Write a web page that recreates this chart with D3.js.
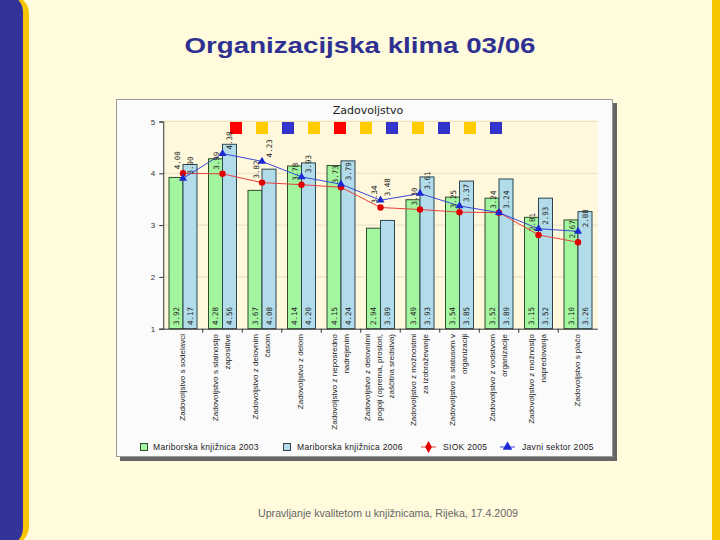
<!DOCTYPE html>
<html><head><meta charset="utf-8">
<script src="https://cdn.jsdelivr.net/npm/d3@7"></script>
<style>
html,body{margin:0;padding:0;background:#fffbdc;}
svg{display:block;}
</style></head>
<body>
<svg id="c" width="720" height="540"></svg>
<script>
const categories = [
  ["Zadovoljstvo s sodelavci"],
  ["Zadovoljstvo s stalnostjo", "zaposlitve"],
  ["Zadovoljstvo z delovnim", "časom"],
  ["Zadovoljstvo z delom"],
  ["Zadovoljstvo z neposredno", "nadrejenim"],
  ["Zadovoljstvo z delovnimi", "pogoji (oprema, prostori,", "zaščitna sredstva)"],
  ["Zadovoljstvo z možnostmi", "za izobraževanje"],
  ["Zadovoljstvo s statusom v", "organizaciji"],
  ["Zadovoljstvo z vodstvom", "organizacije"],
  ["Zadovoljstvo z možnostjo", "napredovanja"],
  ["Zadovoljstvo s plačo"]
];
const maribor2003 = [3.92, 4.28, 3.67, 4.14, 4.15, 2.94, 3.49, 3.54, 3.52, 3.15, 3.10];
const maribor2006 = [4.17, 4.56, 4.08, 4.20, 4.24, 3.09, 3.93, 3.85, 3.89, 3.52, 3.26];
const siok2005   = [4.00, 3.99, 3.82, 3.78, 3.73, 3.34, 3.30, 3.25, 3.24, 2.81, 2.67];
const javni2005  = [3.90, 4.38, 4.23, 3.93, 3.79, 3.48, 3.61, 3.37, 3.24, 2.93, 2.88];
const yTicks = [1, 2, 3, 4, 5];
const markerColors = ["#ff0000","#ffcc00","#3333cc","#ffcc00","#ff0000","#ffcc00","#3333cc","#ffcc00","#3333cc","#ffcc00","#3333cc"];
const legendItems = ["Mariborska knjižnica 2003", "Mariborska knjižnica 2006", "SIOK 2005", "Javni sektor 2005"];
const slideTitle = "Organizacijska klima 03/06";
const chartTitle = "Zadovoljstvo";
const footer = "Upravljanje kvalitetom u knjižnicama, Rijeka, 17.4.2009";

const svg = d3.select("#c");
const F = "Liberation Sans, Arial, sans-serif";

// slide decoration
svg.append("rect").attr("x",0).attr("y",0).attr("width",720).attr("height",540).attr("fill","#fffbdc");
svg.append("rect").attr("x",-30).attr("y",-6).attr("width",59).attr("height",552).attr("rx",20).attr("fill","#f7c600");
svg.append("rect").attr("x",-30).attr("y",-6).attr("width",53).attr("height",552).attr("rx",18).attr("fill","#333399");
svg.append("rect").attr("x",712).attr("y",0).attr("width",8).attr("height",540).attr("fill","#f7c600");

svg.append("text").attr("x",360).attr("y",53).attr("text-anchor","middle")
  .attr("font-family",F).attr("font-weight","bold").attr("font-size",22)
  .attr("textLength",351).attr("lengthAdjust","spacingAndGlyphs")
  .attr("fill","#2e3192").text(slideTitle);
svg.append("text").attr("x",388).attr("y",517).attr("text-anchor","middle")
  .attr("font-family",F).attr("font-size",10.5)
  .attr("textLength",260).attr("lengthAdjust","spacingAndGlyphs")
  .attr("fill","#666").text(footer);

// chart panel
svg.append("rect").attr("x",120).attr("y",103).attr("width",497).attr("height",358).attr("fill","#666");
svg.append("rect").attr("x",116.5).attr("y",99.5).attr("width",496).attr("height",357)
  .attr("fill","#fbfbfb").attr("stroke","#999");

const x0 = 163.25, x1 = 597.75;
const x = d3.scaleBand().domain(d3.range(categories.length)).range([x0, x1]);
const y = d3.scaleLinear().domain([1, 5]).range([328.7, 121.5]);
const bw = 14;
const cx = i => x(i) + x.bandwidth()/2;

svg.append("rect").attr("x",x0).attr("y",y(5.03)).attr("width",x1-x0).attr("height",y(1)-y(5.03)).attr("fill","#fff8dc");

// grid
svg.append("g").selectAll("line").data(yTicks.slice(1)).join("line")
  .attr("x1",x0).attr("x2",x1).attr("y1",d=>y(d)).attr("y2",d=>y(d))
  .attr("stroke","#e6dfc4").attr("stroke-width",1);

svg.append("text").attr("x",368).attr("y",114).attr("text-anchor","middle")
  .attr("font-family","DejaVu Sans, Verdana, sans-serif").attr("font-size",11).attr("fill","#222").text(chartTitle);

// marker squares
const mx = d3.scaleBand().domain(d3.range(markerColors.length)).range([230, 230+26*markerColors.length]);
svg.append("g").selectAll("rect").data(markerColors).join("rect")
  .attr("x",(d,i)=>mx(i)).attr("y",122).attr("width",12).attr("height",12).attr("fill",d=>d);

// bars
const g = svg.append("g");
g.selectAll(".b1").data(maribor2003).join("rect")
  .attr("x",(d,i)=>cx(i)-bw).attr("y",d=>y(d)).attr("width",bw).attr("height",d=>y(1)-y(d))
  .attr("fill","#a4f5a0").attr("stroke","#2d4d2d").attr("stroke-width",1);
g.selectAll(".b2").data(maribor2006).join("rect")
  .attr("x",(d,i)=>cx(i)).attr("y",d=>y(d)).attr("width",bw).attr("height",d=>y(1)-y(d))
  .attr("fill","#b2dcea").attr("stroke","#2d4550").attr("stroke-width",1);

const fmt = d3.format(".2f");
function vlabel(data, dx, yfn, anchor){
  svg.append("g").selectAll("text").data(data).join("text")
    .attr("transform",(d,i)=>`translate(${cx(i)+dx},${yfn(d)}) rotate(-90)`)
    .attr("text-anchor",anchor).attr("dy","0.35em")
    .attr("font-family","DejaVu Sans Mono, monospace").attr("font-size",7.5).attr("fill","#222")
    .text(d=>fmt(d));
}
vlabel(maribor2003, -bw/2, d=>325, "start");
vlabel(maribor2006, bw/2, d=>325, "start");

// axes
svg.append("g").attr("transform",`translate(${x0},0)`)
  .call(d3.axisLeft(y).tickValues(yTicks).tickFormat(d3.format("d")).tickSize(4).tickPadding(4))
  .call(a=>{a.selectAll("text").attr("font-family",F).attr("font-size",8).attr("fill","#333");
            a.selectAll("line,path").attr("stroke","#333");});
svg.append("line").attr("x1",x0).attr("x2",x1).attr("y1",y(1)+0.5).attr("y2",y(1)+0.5).attr("stroke","#333");
svg.append("g").selectAll("line").data(d3.range(1,categories.length)).join("line")
  .attr("x1",i=>x(i)).attr("x2",i=>x(i)).attr("y1",y(1)).attr("y2",y(1)+4).attr("stroke","#333");

// lines
const line = d3.line().x((d,i)=>cx(i)).y(d=>y(d));
svg.append("path").datum(siok2005).attr("d",line).attr("fill","none").attr("stroke","#e84040").attr("stroke-width",1);
svg.append("path").datum(javni2005).attr("d",line).attr("fill","none").attr("stroke","#3a48d8").attr("stroke-width",1);
svg.append("g").selectAll("circle").data(siok2005).join("circle")
  .attr("cx",(d,i)=>cx(i)).attr("cy",d=>y(d)).attr("r",3.2).attr("fill","#e00000");
const tri = d3.symbol().type(d3.symbolTriangle).size(28);
svg.append("g").selectAll("path").data(javni2005).join("path")
  .attr("transform",(d,i)=>`translate(${cx(i)},${y(d)})`).attr("d",tri).attr("fill","#1a2ad0");
vlabel(siok2005, -6, d=>y(d)-4, "start");
vlabel(javni2005, 7, d=>y(d)-4, "start");

// category labels
const cl = svg.append("g");
categories.forEach((lines, i)=>{
  lines.forEach((t, j)=>{
    const xx = cx(i) - 1 + (j - (lines.length-1)/2)*12;
    cl.append("text").attr("transform",`translate(${xx},334) rotate(-90)`)
      .attr("text-anchor","end").attr("dy","0.35em")
      .attr("font-family",F).attr("font-size",8).attr("fill","#222").text(t);
  });
});

// legend
const lg = svg.append("g").attr("font-family",F).attr("font-size",8.5).attr("fill","#222");
lg.append("rect").attr("x",140.5).attr("y",443.5).attr("width",7).attr("height",7).attr("fill","#a4f5a0").attr("stroke","#2d4d2d");
lg.append("text").attr("x",153).attr("y",450).attr("letter-spacing",0.3).text(legendItems[0]);
lg.append("rect").attr("x",283.5).attr("y",443.5).attr("width",7).attr("height",7).attr("fill","#b2dcea").attr("stroke","#2d4550");
lg.append("text").attr("x",297).attr("y",450).attr("letter-spacing",0.3).text(legendItems[1]);
lg.append("line").attr("x1",421).attr("x2",436).attr("y1",447).attr("y2",447).attr("stroke","#e84040");
lg.append("path").attr("transform","translate(428.5,447)").attr("d",d3.symbol().type(d3.symbolDiamond).size(40)).attr("fill","#e00000");
lg.append("text").attr("x",443).attr("y",450).attr("letter-spacing",0.3).text(legendItems[2]);
lg.append("line").attr("x1",500).attr("x2",515).attr("y1",447).attr("y2",447).attr("stroke","#3a48d8");
lg.append("path").attr("transform","translate(507.5,447)").attr("d",d3.symbol().type(d3.symbolTriangle).size(40)).attr("fill","#1a2ad0");
lg.append("text").attr("x",522).attr("y",450).attr("letter-spacing",0.3).text(legendItems[3]);
</script>
</body></html>
